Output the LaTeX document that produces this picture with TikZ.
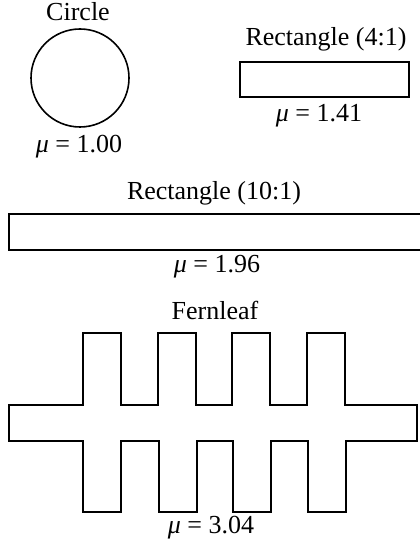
\documentclass[tikz,border=0pt]{standalone}
\usepackage{fontspec}
\setmainfont{Liberation Serif}
\definecolor{ShapeClr}{rgb}{0,0,0}

\begin{document}
\begin{tikzpicture}[x=.5pt,y=-.5pt,
  shape line/.style={line width=.8pt,color=ShapeClr},
  lbl/.style={anchor=base,inner sep=0pt,font=\fontsize{13}{15}\selectfont}]
\useasboundingbox (0,0) rectangle (419,549);

% circle
\coordinate (O) at (80,78);
\draw[shape line] (O) circle[radius=49];
\node[lbl] (circTitle) at (78,21) {Circle};
\node[lbl] (circMu) at (79,153) {\textit{μ} = 1.00};

% rectangle 4:1
\draw[shape line] (240,62) rectangle (409,97);
\node[lbl] (rectATitle) at (326,46) {Rectangle (4:1)};
\node[lbl] (rectAMu) at (319,122) {\textit{μ} = 1.41};

% rectangle 10:1 (runs off the right edge)
\draw[shape line] (9,214) rectangle (425,250);
\node[lbl] (rectBTitle) at (214,200) {Rectangle (10:1)};
\node[lbl] (rectBMu) at (217,272) {\textit{μ} = 1.96};

% fernleaf
\draw[shape line] (9,405)
  \foreach \x in {83,158,232,307} {-- (\x,405) -- (\x,333) -- (\x+38,333) -- (\x+38,405)}
  -- (417,405) -- (417,441)
  \foreach \x in {308,233,159,83} {-- (\x+38,441) -- (\x+38,512) -- (\x,512) -- (\x,441)}
  -- (9,441) -- cycle;
\node[lbl] (fernTitle) at (215,319) {Fernleaf};
\node[lbl] (fernMu) at (211,533) {\textit{μ} = 3.04};

\end{tikzpicture}
\end{document}
